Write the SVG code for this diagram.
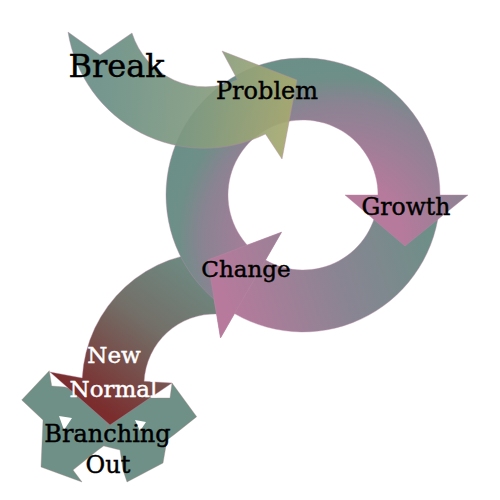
<svg xmlns="http://www.w3.org/2000/svg" width="500" height="500" viewBox="0 0 500 500">
  <style>
    .lbl { font-family: "DejaVu Serif", "Liberation Serif", serif; text-anchor: middle; fill: #000; stroke: #000; stroke-width: 0.45; }
    .wht { fill: #fff; stroke: #fff; }
    .edge { stroke: #b98aa6; stroke-width: 0.7; stroke-opacity: 0.6; }
    .teal { fill: #6e9087; stroke: #a97f7f; stroke-width: 0.6; stroke-opacity: 0.6; }
  </style>
  <defs>
    <radialGradient id="gGrowth" gradientUnits="userSpaceOnUse" cx="340" cy="240" r="190">
      <stop offset="0.33" stop-color="#b67a9c"/>
      <stop offset="0.55" stop-color="#9d7f97"/>
      <stop offset="0.72" stop-color="#8a8392"/>
      <stop offset="0.86" stop-color="#6d8f87"/>
      <stop offset="1" stop-color="#6b9087"/>
    </radialGradient>
    <linearGradient id="gChange" gradientUnits="userSpaceOnUse" x1="435" y1="230" x2="225" y2="300">
      <stop offset="0" stop-color="#6c8f87"/>
      <stop offset="0.5" stop-color="#8b8493"/>
      <stop offset="1" stop-color="#b77a9c"/>
    </linearGradient>
    <linearGradient id="gBreak" gradientUnits="userSpaceOnUse" x1="100" y1="90" x2="290" y2="110">
      <stop offset="0" stop-color="#6a8f86"/>
      <stop offset="0.5" stop-color="#819a81"/>
      <stop offset="1" stop-color="#a6a970"/>
    </linearGradient>
    <linearGradient id="gNew" gradientUnits="userSpaceOnUse" x1="205" y1="265" x2="100" y2="410">
      <stop offset="0" stop-color="#6d8c84"/>
      <stop offset="0.45" stop-color="#736f68"/>
      <stop offset="1" stop-color="#7b2c2c"/>
    </linearGradient>
  </defs>

  <g id="branching-out">
    <path class="teal" d="M49.3,370.7 L51.7,386 L65,387 L110,402 L105,445 L98,450 L73,470 L82,482 L41,467 L43,420 L21.7,400 Z"/>
    <path class="teal" d="M172,383 L196.7,416.7 L175,434 L167,440 L163,463 L127,482 L123,470 L120,450 L104,446 L110,402 L150,398 L170,398 Z"/>
    <path fill="#fff" d="M59,416 L72,418 L64,430 Z"/>
    <path fill="#fff" d="M135,420 L146,422 L140,431 Z"/>
  </g>

  <g id="new-normal">
    <path class="edge" fill="url(#gNew)" d="M219.6,252.1 A133,133 0 0 0 82.2,378 L50,372 L110,425 L172,383 L144.1,381.3 A71,71 0 0 1 217.5,314 Z"/>
  </g>

  <g id="change">
    <path class="edge" fill="url(#gChange)" d="M439.8,202.2 A137,137 0 0 1 234.5,313.6 L220.5,337.9 L207.7,260 L281.5,232.2 L265.5,260 A75,75 0 0 0 377.9,198.9 Z"/>
  </g>

  <g id="growth">
    <path class="edge" fill="url(#gGrowth)" d="M224.4,307.2 A137,137 0 1 1 440,195 L468,195 L405,246 L345,195 L378,195 A75,75 0 1 0 260,256.4 Z"/>
  </g>

  <g id="change-head">
    <path class="edge" fill="url(#gChange)" d="M234.5,313.6 L220.5,337.9 L207.7,260 L281.5,232.2 L265.5,260 Z"/>
  </g>

  <g id="break">
    <path class="edge" fill="url(#gBreak)" fill-opacity="0.93" d="M68,32 A138,138 0 0 0 265.5,134 L282,159 L297,80 L222,51 L237.5,79.8 A77,77 0 0 1 132,33 L100,55 Z"/>
  </g>

  <g id="labels">
    <text class="lbl" x="116.5" y="77" font-size="32">Break</text>
    <text class="lbl" x="267" y="99" font-size="24">Problem</text>
    <text class="lbl" x="406" y="215" font-size="23.5">Growth</text>
    <text class="lbl" x="246" y="277" font-size="23">Change</text>
    <text class="lbl wht" x="114" y="363" font-size="23">New</text>
    <text class="lbl wht" x="113.5" y="397" font-size="23">Normal</text>
    <text class="lbl" x="107.5" y="442" font-size="24">Branching</text>
    <text class="lbl" x="108" y="473" font-size="24">Out</text>
  </g>
</svg>
